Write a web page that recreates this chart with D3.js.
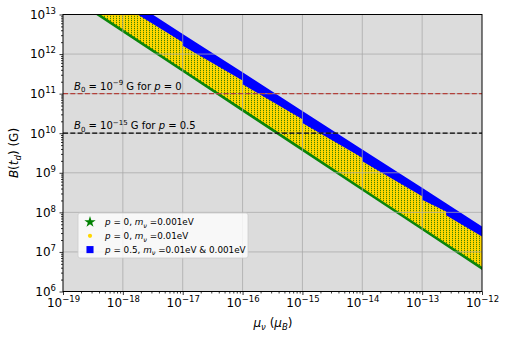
<!DOCTYPE html>
<html>
<head>
<meta charset="utf-8">
<script src="https://cdn.jsdelivr.net/npm/d3@7"></script>
<style>
  body { margin: 0; background: #fff; }
  svg { display: block; font-family: "DejaVu Sans", sans-serif; }
</style>
</head>
<body>
<svg width="509" height="342"></svg>
<script>
// ---- data (log10 values) ----
const muTicks = [-19, -18, -17, -16, -15, -14, -13, -12];
const bTicks = [6, 7, 8, 9, 10, 11, 12, 13];

// p = 0, m_nu = 0.001 eV  (green stars, lower edge of the band)
const greenMu = [-19, -18, -17, -16, -15, -14, -13, -12];
const greenLo = [13.545, 12.545, 11.545, 10.545, 9.545, 8.545, 7.545, 6.545];
const greenHi = [13.70, 12.70, 11.70, 10.70, 9.70, 8.70, 7.70, 6.70];

// p = 0, m_nu = 0.01 eV  (yellow dots)
const yellowMu = [-19, -18, -17, -16, -15, -14, -13, -12];
const yellowLo = [13.625, 12.625, 11.625, 10.625, 9.625, 8.625, 7.625, 6.625];
const yellowHi = [14.41, 13.44, 12.46, 11.49, 10.51, 9.54, 8.57, 7.59];

// p = 0.5, m_nu = 0.01 eV & 0.001 eV  (blue squares, comes in chunks)
const blueMu  = [-19, -17, -17, -16, -16, -15, -15, -14, -14, -13, -13, -12.6, -12.6, -12];
const blueTop = [14.46, 12.51, 12.51, 11.54, 11.54, 10.56, 10.56, 9.59, 9.59, 8.62, 8.62, 8.23, 8.23, 7.64];
const blueBot = [14.16, 12.30, 12.21, 11.33, 11.24, 10.35, 10.26, 9.38, 9.29, 8.41, 8.32, 8.02, 7.93, 7.39];

// reference field lines
const refLines = [
  { b: 11, color: "#b3403a", label: ["B", "0", "−9", "p = 0"] },
  { b: 10, color: "#000000", label: ["B", "0", "−15", "p = 0.5"] }
];

const legendItems = [
  { sym: d3.symbolStar, size: 40, color: "#008000", p: "0", m: "0.001eV" },
  { sym: d3.symbolCircle, size: 14, color: "#ffd700", p: "0", m: "0.01eV" },
  { sym: d3.symbolSquare, size: 50, color: "#0000ff", p: "0.5", m: "0.01eV & 0.001eV" }
];

// ---- layout ----
const svg = d3.select("svg");
const pLeft = 63, pRight = 482, pTop = 14.5, pBottom = 291.5;

const x = d3.scaleLog().domain([1e-19, 1e-12]).range([pLeft, pRight]);
const y = d3.scaleLog().domain([1e6, 1e13]).range([pBottom, pTop]);
const p10 = e => Math.pow(10, e);

const defs = svg.append("defs");
defs.append("clipPath").attr("id", "plot")
  .append("rect").attr("x", pLeft).attr("y", pTop)
  .attr("width", pRight - pLeft).attr("height", pBottom - pTop);

// yellow texture: yellow dots with green stars peeking between them
const pat = defs.append("pattern").attr("id", "dots")
  .attr("patternUnits", "userSpaceOnUse").attr("width", 3).attr("height", 2);
pat.append("rect").attr("width", 3).attr("height", 2).attr("fill", "#ffd700");
pat.append("rect").attr("x", 2).attr("y", 0).attr("width", 1).attr("height", 1).attr("fill", "#3f8600");
pat.append("rect").attr("x", 2).attr("y", 1).attr("width", 1).attr("height", 1).attr("fill", "#dcc600");

svg.append("rect").attr("x", pLeft).attr("y", pTop)
  .attr("width", pRight - pLeft).attr("height", pBottom - pTop).attr("fill", "#dcdcdc");

const plot = svg.append("g").attr("clip-path", "url(#plot)");

const band = (mu, lo, hi) => d3.area()
  .x((d, i) => x(p10(mu[i])))
  .y0((d, i) => y(p10(lo[i])))
  .y1((d, i) => y(p10(hi[i])))(mu);

plot.append("path").attr("d", band(greenMu, greenLo, greenHi)).attr("fill", "#0a850a");
plot.append("path").attr("d", band(yellowMu, yellowLo, yellowHi)).attr("fill", "url(#dots)");
plot.append("path").attr("d", band(blueMu, blueBot, blueTop)).attr("fill", "#0000ff");

// grid on top of the markers
const grid = svg.append("g").attr("stroke", "#a8a8a8").attr("stroke-opacity", 0.75).attr("stroke-width", 1);
grid.selectAll(".gx").data(muTicks.slice(1, -1)).enter().append("line")
  .attr("x1", d => x(p10(d))).attr("x2", d => x(p10(d))).attr("y1", pTop).attr("y2", pBottom);
grid.selectAll(".gy").data(bTicks.slice(1, -1)).enter().append("line")
  .attr("y1", d => y(p10(d))).attr("y2", d => y(p10(d))).attr("x1", pLeft).attr("x2", pRight);

// dashed reference lines + labels
refLines.forEach(r => {
  svg.append("line").attr("x1", pLeft).attr("x2", pRight)
    .attr("y1", y(p10(r.b))).attr("y2", y(p10(r.b)))
    .attr("stroke", r.color).attr("stroke-width", 1.2).attr("stroke-dasharray", "5,2.3");
  const t = svg.append("text").attr("x", 74).attr("y", y(p10(r.b)) - 4).attr("font-size", 10);
  t.append("tspan").attr("font-style", "italic").text(r.label[0]);
  t.append("tspan").attr("font-size", 7).attr("dy", 2.5).text(r.label[1]);
  t.append("tspan").attr("dy", -2.5).text(" = 10");
  t.append("tspan").attr("font-size", 7).attr("dy", -4.5).text(r.label[2]);
  t.append("tspan").attr("dy", 4.5).text(" G for ");
  const parts = r.label[3].split(" ");
  t.append("tspan").attr("font-style", "italic").text(parts[0]);
  t.append("tspan").text(" = " + parts[2]);
});

// axes
const supText = (sel, e) => {
  sel.text("");
  sel.append("tspan").text("10");
  sel.append("tspan").attr("font-size", 8.5).attr("dy", -5)
    .text(String(e).replace("-", "−"));
};

const minors = ticks => {
  const out = [];
  ticks.slice(0, -1).forEach(e => { for (let k = 2; k < 10; k++) out.push(k * p10(e)); });
  return out;
};

const isMajor = d => Math.abs(Math.log10(d) - Math.round(Math.log10(d))) < 1e-6;

const gx = svg.append("g").attr("transform", `translate(0,${pBottom})`);
gx.call(d3.axisBottom(x).tickValues(minors(muTicks)).tickSize(2).tickFormat(""));
gx.append("g").call(d3.axisBottom(x).tickValues(muTicks.map(p10)).tickSize(3.5).tickPadding(3.5).tickFormat(""));
gx.selectAll(".domain").remove();
gx.selectAll(".tick text").each(function (d) {
  if (!isMajor(d)) return;
  const t = d3.select(this).attr("font-size", 12).attr("font-family", "DejaVu Sans").attr("fill", "#000");
  supText(t, Math.round(Math.log10(d)));
});

const gy = svg.append("g").attr("transform", `translate(${pLeft},0)`);
gy.call(d3.axisLeft(y).tickValues(minors(bTicks)).tickSize(2).tickFormat(""));
gy.append("g").call(d3.axisLeft(y).tickValues(bTicks.map(p10)).tickSize(3.5).tickPadding(3.5).tickFormat(""));
gy.selectAll(".domain").remove();
gy.selectAll(".tick text").each(function (d) {
  if (!isMajor(d)) return;
  const t = d3.select(this).attr("font-size", 12).attr("font-family", "DejaVu Sans").attr("fill", "#000");
  supText(t, Math.round(Math.log10(d)));
});
svg.selectAll(".tick line").attr("stroke", "#000").attr("stroke-width", 0.8);

// frame
svg.append("rect").attr("x", pLeft).attr("y", pTop)
  .attr("width", pRight - pLeft).attr("height", pBottom - pTop)
  .attr("fill", "none").attr("stroke", "#000").attr("stroke-width", 1);

// axis labels
const xl = svg.append("text").attr("x", 273).attr("y", 327).attr("text-anchor", "middle").attr("font-size", 12);
xl.append("tspan").attr("font-style", "italic").text("μ");
xl.append("tspan").attr("font-style", "italic").attr("font-size", 8.5).attr("dy", 3).text("ν");
xl.append("tspan").attr("dy", -3).text(" (");
xl.append("tspan").attr("font-style", "italic").text("μ");
xl.append("tspan").attr("font-style", "italic").attr("font-size", 8.5).attr("dy", 3).text("B");
xl.append("tspan").attr("dy", -3).text(")");

const yl = svg.append("text").attr("transform", "translate(18,153) rotate(-90)")
  .attr("text-anchor", "middle").attr("font-size", 12);
yl.append("tspan").attr("font-style", "italic").text("B");
yl.append("tspan").text("(");
yl.append("tspan").attr("font-style", "italic").text("t");
yl.append("tspan").attr("font-style", "italic").attr("font-size", 8.5).attr("dy", 3).text("d");
yl.append("tspan").attr("dy", -3).text(") (G)");

// legend
const lg = svg.append("g").attr("transform", "translate(78,213)");
lg.append("rect").attr("width", 170).attr("height", 45).attr("rx", 2)
  .attr("fill", "#fff").attr("fill-opacity", 0.8).attr("stroke", "#cccccc").attr("stroke-width", 0.8);
legendItems.forEach((it, i) => {
  const row = lg.append("g").attr("transform", `translate(0,${9 + i * 13.8})`);
  row.append("path").attr("d", d3.symbol().type(it.sym).size(it.size)())
    .attr("transform", "translate(12,0)").attr("fill", it.color);
  const t = row.append("text").attr("x", 27).attr("y", 3.3).attr("font-size", 8.8);
  t.append("tspan").attr("font-style", "italic").text("p");
  t.append("tspan").text(" = " + it.p + ", ");
  t.append("tspan").attr("font-style", "italic").text("m");
  t.append("tspan").attr("font-style", "italic").attr("font-size", 6.5).attr("dy", 2.5).text("ν");
  t.append("tspan").attr("dy", -2.5).text(" =" + it.m);
});
</script>
</body>
</html>
